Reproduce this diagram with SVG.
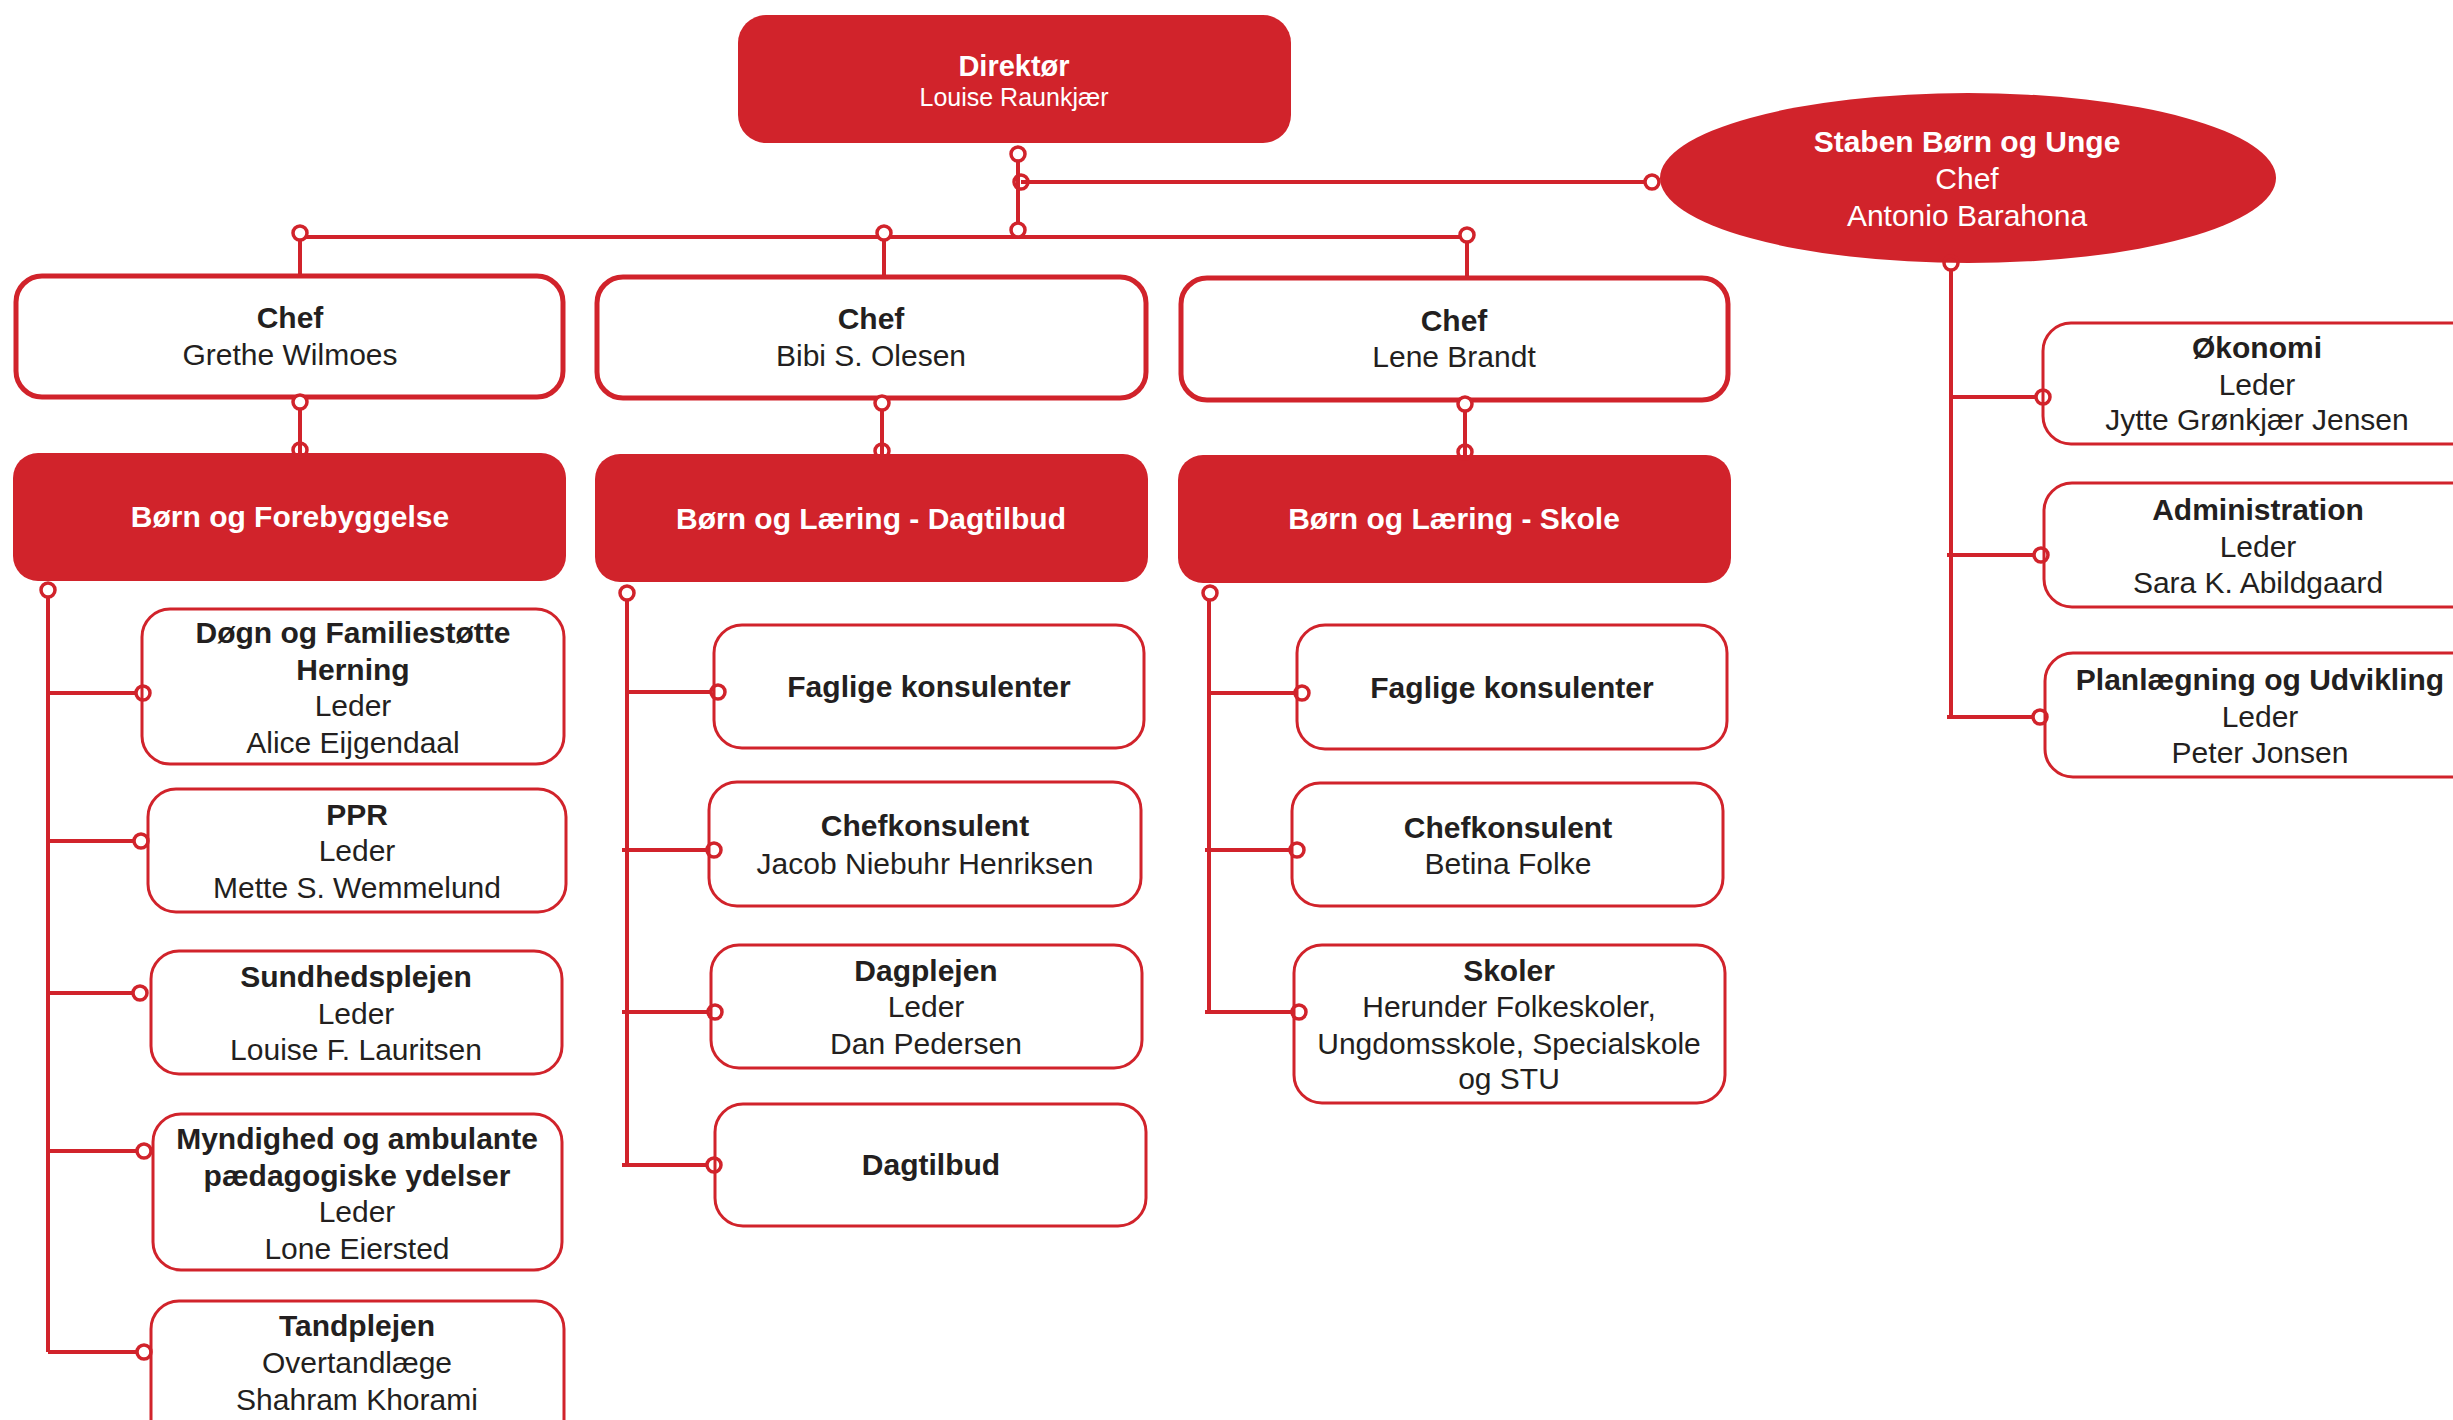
<svg xmlns="http://www.w3.org/2000/svg" width="2453" height="1420" viewBox="0 0 2453 1420">
<style>
  .bg { fill: #ffffff; }
  .solid { fill: #D1232B; stroke: none; }
  .chef { fill: #ffffff; stroke: #D1232B; stroke-width: 5; }
  .sub { fill: #ffffff; stroke: #D1232B; stroke-width: 3; }
  .line { fill: none; stroke: #D1232B; stroke-width: 4; }
  .dot { fill: none; stroke: #D1232B; stroke-width: 3.5; }
  .dotw { fill: #ffffff; stroke: #D1232B; stroke-width: 3.5; }
  text { font-family: "Liberation Sans", Arial, "Noto Sans", sans-serif; font-size: 30px; text-anchor: middle; fill: #231F20; }
  .b { font-weight: bold; }
  .w { fill: #ffffff; }
</style>
<rect class="bg" x="0" y="0" width="2453" height="1420"/>

<g id="connectors">
  <line class="line" x1="1018" y1="161" x2="1018" y2="237"/>
  <line class="line" x1="1021" y1="182" x2="1645" y2="182"/>
  <line class="line" x1="300" y1="237" x2="1467" y2="237"/>
  <line class="line" x1="300" y1="240" x2="300" y2="277"/>
  <line class="line" x1="884" y1="240" x2="884" y2="277"/>
  <line class="line" x1="1467" y1="242" x2="1467" y2="277"/>
  <line class="line" x1="300" y1="409" x2="300" y2="453"/>
  <line class="line" x1="882" y1="410" x2="882" y2="454"/>
  <line class="line" x1="1465" y1="411" x2="1465" y2="455"/>
  <line class="line" x1="48" y1="597" x2="48" y2="1352"/>
  <line class="line" x1="48" y1="693" x2="136" y2="693"/>
  <line class="line" x1="48" y1="841" x2="134" y2="841"/>
  <line class="line" x1="48" y1="993" x2="133" y2="993"/>
  <line class="line" x1="48" y1="1151" x2="137" y2="1151"/>
  <line class="line" x1="48" y1="1352" x2="137" y2="1352"/>
  <line class="line" x1="627" y1="600" x2="627" y2="1165"/>
  <line class="line" x1="627" y1="692" x2="711" y2="692"/>
  <line class="line" x1="622" y1="850" x2="707" y2="850"/>
  <line class="line" x1="622" y1="1012" x2="708" y2="1012"/>
  <line class="line" x1="622" y1="1165" x2="707" y2="1165"/>
  <line class="line" x1="1209" y1="600" x2="1209" y2="1012"/>
  <line class="line" x1="1209" y1="693" x2="1295" y2="693"/>
  <line class="line" x1="1205" y1="850" x2="1290" y2="850"/>
  <line class="line" x1="1205" y1="1012" x2="1292" y2="1012"/>
  <line class="line" x1="1951" y1="270" x2="1951" y2="717"/>
  <line class="line" x1="1951" y1="397" x2="2036" y2="397"/>
  <line class="line" x1="1947" y1="555" x2="2034" y2="555"/>
  <line class="line" x1="1947" y1="717" x2="2033" y2="717"/>
</g>

<g id="n-direktor">
  <rect class="solid" x="738" y="15" width="553" height="128" rx="28"/>
  <text class="b w" x="1014" y="76" style="font-size:29px">Direktør</text>
  <text class="w" x="1014" y="106" style="font-size:25px">Louise Raunkjær</text>
</g>

<g id="n-staben">
  <ellipse class="solid" cx="1968" cy="178" rx="308" ry="85"/>
  <text class="b w" x="1967" y="152">Staben Børn og Unge</text>
  <text class="w" x="1967" y="189">Chef</text>
  <text class="w" x="1967" y="226">Antonio Barahona</text>
</g>

<g id="n-chef1">
  <rect class="chef" x="16" y="276" width="547" height="121" rx="26"/>
  <text class="b" x="290" y="328">Chef</text>
  <text x="290" y="365">Grethe Wilmoes</text>
</g>
<g id="n-chef2">
  <rect class="chef" x="597" y="277" width="549" height="121" rx="26"/>
  <text class="b" x="871" y="329">Chef</text>
  <text x="871" y="366">Bibi S. Olesen</text>
</g>
<g id="n-chef3">
  <rect class="chef" x="1181" y="278" width="547" height="122" rx="26"/>
  <text class="b" x="1454" y="331">Chef</text>
  <text x="1454" y="367">Lene Brandt</text>
</g>

<g id="n-forebyggelse">
  <rect class="solid" x="13" y="453" width="553" height="128" rx="25"/>
  <text class="b w" x="290" y="527">Børn og Forebyggelse</text>
</g>
<g id="n-dagtilbud-afd">
  <rect class="solid" x="595" y="454" width="553" height="128" rx="25"/>
  <text class="b w" x="871" y="529">Børn og Læring - Dagtilbud</text>
</g>
<g id="n-skole-afd">
  <rect class="solid" x="1178" y="455" width="553" height="128" rx="25"/>
  <text class="b w" x="1454" y="529">Børn og Læring - Skole</text>
</g>

<g id="n-dogn">
  <rect class="sub" x="142" y="609" width="422" height="155" rx="28"/>
  <text class="b" x="353" y="643">Døgn og Familiestøtte</text>
  <text class="b" x="353" y="680">Herning</text>
  <text x="353" y="716">Leder</text>
  <text x="353" y="753">Alice Eijgendaal</text>
</g>
<g id="n-ppr">
  <rect class="sub" x="148" y="789" width="418" height="123" rx="28"/>
  <text class="b" x="357" y="825">PPR</text>
  <text x="357" y="861">Leder</text>
  <text x="357" y="898">Mette S. Wemmelund</text>
</g>
<g id="n-sundhed">
  <rect class="sub" x="151" y="951" width="411" height="123" rx="28"/>
  <text class="b" x="356" y="987">Sundhedsplejen</text>
  <text x="356" y="1024">Leder</text>
  <text x="356" y="1060">Louise F. Lauritsen</text>
</g>
<g id="n-myndighed">
  <rect class="sub" x="153" y="1114" width="409" height="156" rx="28"/>
  <text class="b" x="357" y="1149">Myndighed og ambulante</text>
  <text class="b" x="357" y="1186">pædagogiske ydelser</text>
  <text x="357" y="1222">Leder</text>
  <text x="357" y="1259">Lone Eiersted</text>
</g>
<g id="n-tand">
  <rect class="sub" x="151" y="1301" width="413" height="150" rx="28"/>
  <text class="b" x="357" y="1336">Tandplejen</text>
  <text x="357" y="1373">Overtandlæge</text>
  <text x="357" y="1410">Shahram Khorami</text>
</g>

<g id="n-faglige1">
  <rect class="sub" x="714" y="625" width="430" height="123" rx="28"/>
  <text class="b" x="929" y="697">Faglige konsulenter</text>
</g>
<g id="n-chefkons1">
  <rect class="sub" x="709" y="782" width="432" height="124" rx="28"/>
  <text class="b" x="925" y="836">Chefkonsulent</text>
  <text x="925" y="874">Jacob Niebuhr Henriksen</text>
</g>
<g id="n-dagplejen">
  <rect class="sub" x="711" y="945" width="431" height="123" rx="28"/>
  <text class="b" x="926" y="981">Dagplejen</text>
  <text x="926" y="1017">Leder</text>
  <text x="926" y="1054">Dan Pedersen</text>
</g>
<g id="n-dagtilbud">
  <rect class="sub" x="715" y="1104" width="431" height="122" rx="28"/>
  <text class="b" x="931" y="1175">Dagtilbud</text>
</g>

<g id="n-faglige2">
  <rect class="sub" x="1297" y="625" width="430" height="124" rx="28"/>
  <text class="b" x="1512" y="698">Faglige konsulenter</text>
</g>
<g id="n-chefkons2">
  <rect class="sub" x="1292" y="783" width="431" height="123" rx="28"/>
  <text class="b" x="1508" y="838">Chefkonsulent</text>
  <text x="1508" y="874">Betina Folke</text>
</g>
<g id="n-skoler">
  <rect class="sub" x="1294" y="945" width="431" height="158" rx="28"/>
  <text class="b" x="1509" y="981">Skoler</text>
  <text x="1509" y="1017">Herunder Folkeskoler,</text>
  <text x="1509" y="1054">Ungdomsskole, Specialskole</text>
  <text x="1509" y="1089">og STU</text>
</g>

<g id="n-okonomi">
  <rect class="sub" x="2043" y="323" width="440" height="121" rx="28"/>
  <text class="b" x="2257" y="358">Økonomi</text>
  <text x="2257" y="395">Leder</text>
  <text x="2257" y="430">Jytte Grønkjær Jensen</text>
</g>
<g id="n-admin">
  <rect class="sub" x="2044" y="483" width="440" height="124" rx="28"/>
  <text class="b" x="2258" y="520">Administration</text>
  <text x="2258" y="557">Leder</text>
  <text x="2258" y="593">Sara K. Abildgaard</text>
</g>
<g id="n-planl">
  <rect class="sub" x="2045" y="653" width="440" height="124" rx="28"/>
  <text class="b" x="2260" y="690">Planlægning og Udvikling</text>
  <text x="2260" y="727">Leder</text>
  <text x="2260" y="763">Peter Jonsen</text>
</g>

<g id="connector-ends">
  <circle class="dotw" cx="1018" cy="154" r="7"/>
  <circle class="dot" cx="1021" cy="182" r="7"/>
  <circle class="dotw" cx="1018" cy="230" r="7"/>
  <circle class="dot" cx="1652" cy="182" r="7"/>
  <circle class="dotw" cx="300" cy="233" r="7"/>
  <circle class="dotw" cx="884" cy="233" r="7"/>
  <circle class="dotw" cx="1467" cy="235" r="7"/>
  <circle class="dotw" cx="300" cy="402" r="7"/>
  <circle class="dotw" cx="882" cy="403" r="7"/>
  <circle class="dotw" cx="1465" cy="404" r="7"/>
  <circle class="dot" cx="300" cy="450" r="7"/>
  <circle class="dot" cx="882" cy="451" r="7"/>
  <circle class="dot" cx="1465" cy="452" r="7"/>
  <circle class="dotw" cx="48" cy="590" r="7"/>
  <circle class="dotw" cx="627" cy="593" r="7"/>
  <circle class="dotw" cx="1210" cy="593" r="7"/>
  <circle class="dot" cx="1951" cy="263" r="7"/>
  <circle class="dot" cx="143" cy="693" r="7"/>
  <circle class="dot" cx="141" cy="841" r="7"/>
  <circle class="dot" cx="140" cy="993" r="7"/>
  <circle class="dot" cx="144" cy="1151" r="7"/>
  <circle class="dot" cx="144" cy="1352" r="7"/>
  <circle class="dot" cx="718" cy="692" r="7"/>
  <circle class="dot" cx="714" cy="850" r="7"/>
  <circle class="dot" cx="715" cy="1012" r="7"/>
  <circle class="dot" cx="714" cy="1165" r="7"/>
  <circle class="dot" cx="1302" cy="693" r="7"/>
  <circle class="dot" cx="1297" cy="850" r="7"/>
  <circle class="dot" cx="1299" cy="1012" r="7"/>
  <circle class="dot" cx="2043" cy="397" r="7"/>
  <circle class="dot" cx="2041" cy="555" r="7"/>
  <circle class="dot" cx="2040" cy="717" r="7"/>
</g>
</svg>
